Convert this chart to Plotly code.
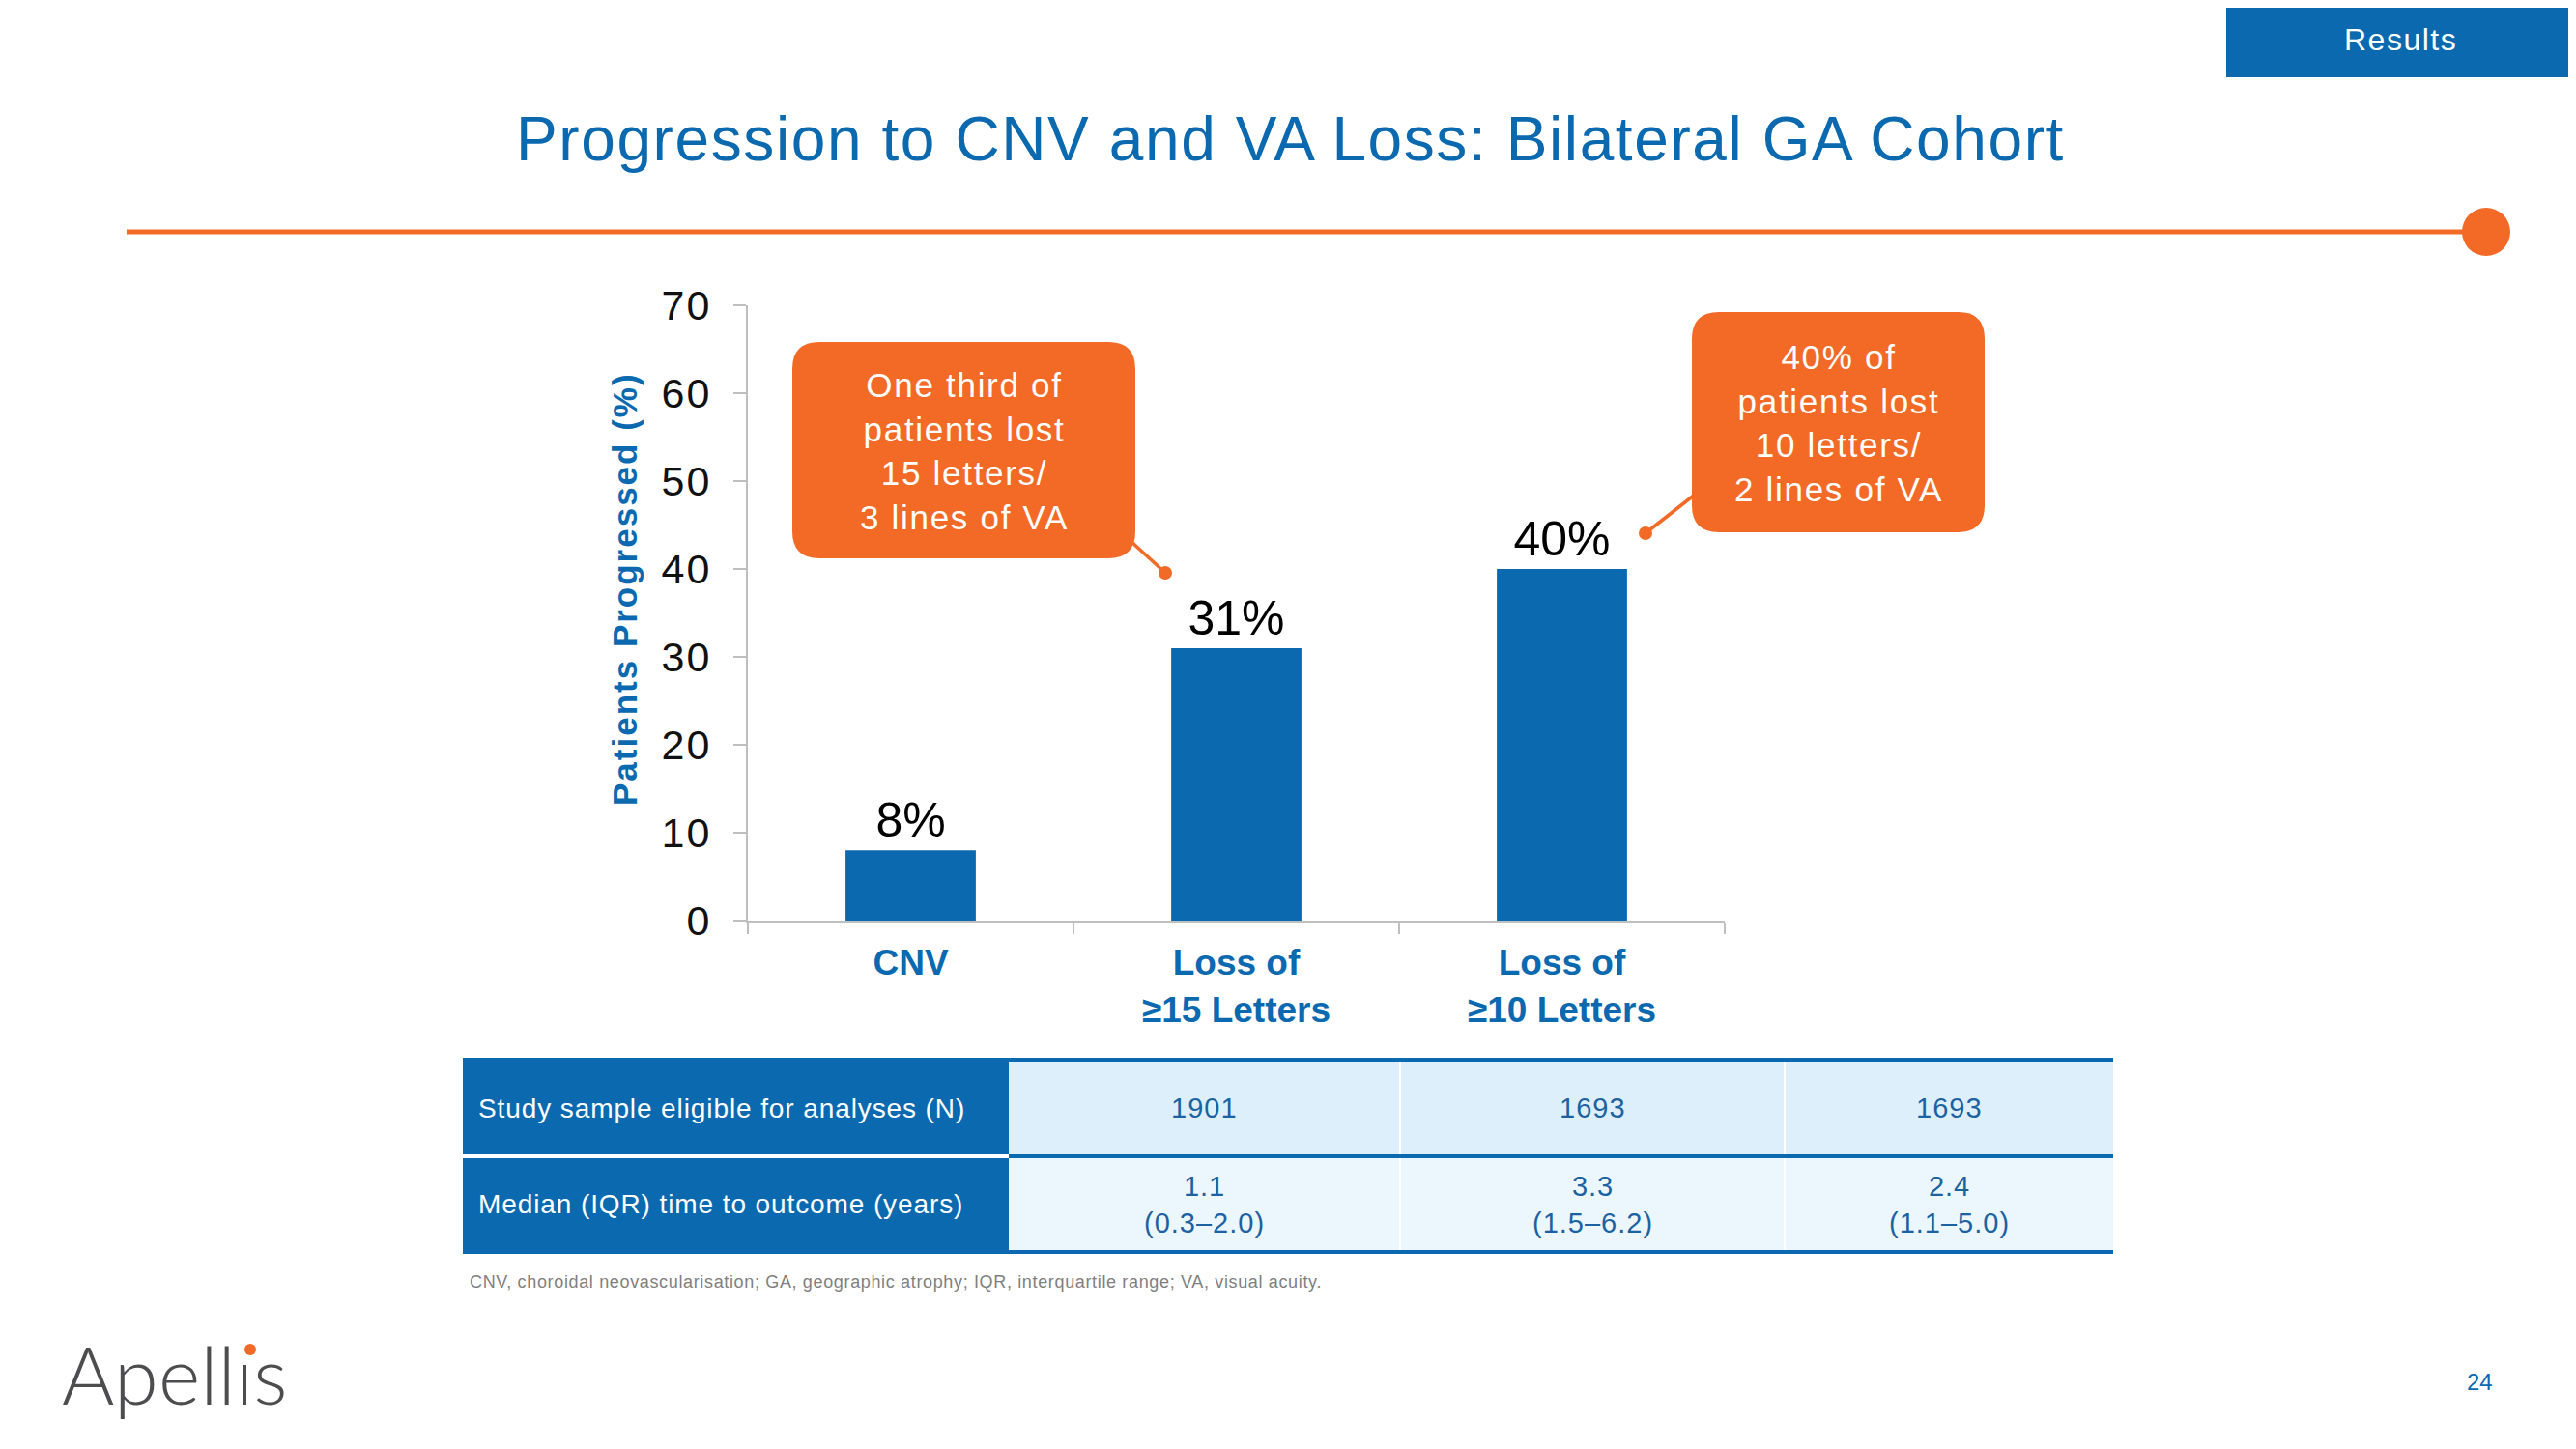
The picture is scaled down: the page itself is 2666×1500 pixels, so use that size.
import plotly.graph_objects as go

# ---------------- data ----------------
categories = ["CNV", "Loss of ≥15 Letters", "Loss of ≥10 Letters"]
category_labels = ["CNV", "Loss of<br>≥15 Letters", "Loss of<br>≥10 Letters"]
progressed_pct = [8, 31, 40]
bar_labels = ["8%", "31%", "40%"]
y_ticks = [0, 10, 20, 30, 40, 50, 60, 70]

callout_1 = ["One third of", "patients lost", "15 letters/", "3 lines of VA"]
callout_2 = ["40% of", "patients lost", "10 letters/", "2 lines of VA"]

table_row_labels = ["Study sample eligible for analyses (N)", "Median (IQR) time to outcome (years)"]
sample_n = ["1901", "1693", "1693"]
median_years = ["1.1", "3.3", "2.4"]
iqr_years = ["(0.3–2.0)", "(1.5–6.2)", "(1.1–5.0)"]

title_text = "Progression to CNV and VA Loss: Bilateral GA Cohort"
y_title = "Patients Progressed (%)"
footnote = "CNV, choroidal neovascularisation; GA, geographic atrophy; IQR, interquartile range; VA, visual acuity."
section_label = "Results"
page_number = "24"
logo_text = "Apellıs"

# ---------------- styling ----------------
W, H = 2666, 1500
OFF = 8  # page body margin
BLUE = "#0B69AF"
ORANGE = "#F26A26"
GREY_AX = "#BFBFBF"
FONT = "Liberation Sans, Arial, sans-serif"


def px(x):
    return (x - OFF) / W


def py(y):
    return 1 - (y - OFF) / H


def spaced(t, s):
    return f'<span style="letter-spacing:{s}px">{t}</span>'


def rrect_path(x0, y0, x1, y1, r):
    pts = [
        ("M", [(x0 + r, y0)]), ("L", [(x1 - r, y0)]), ("Q", [(x1, y0), (x1, y0 + r)]),
        ("L", [(x1, y1 - r)]), ("Q", [(x1, y1), (x1 - r, y1)]), ("L", [(x0 + r, y1)]),
        ("Q", [(x0, y1), (x0, y1 - r)]), ("L", [(x0, y0 + r)]), ("Q", [(x0, y0), (x0 + r, y0)]),
    ]
    out = ""
    for cmd, pp in pts:
        out += cmd + " " + " ".join(f"{px(a):.6f},{py(b):.6f}" for a, b in pp) + " "
    return out + "Z"


def note(x, y, text, size, color, xanchor="center", yanchor="middle", family=FONT, **kw):
    d = dict(x=px(x), y=py(y), xref="paper", yref="paper", text=text, showarrow=False,
             xanchor=xanchor, yanchor=yanchor, font=dict(size=size, color=color, family=family))
    if "weight" in kw:
        d["font"]["weight"] = kw.pop("weight")
    d.update(kw)
    return d


fig = go.Figure()
fig.add_trace(go.Bar(
    x=categories, y=progressed_pct, text=bar_labels, textposition="outside",
    textfont=dict(size=50, color="#000000", family=FONT),
    marker=dict(color=BLUE, line=dict(width=0)), width=0.4, cliponaxis=False,
    hoverinfo="skip",
))

shapes = []
annotations = []

# header band
shapes.append(dict(type="rect", xref="paper", yref="paper", x0=px(2304), x1=px(2680), y0=py(80), y1=py(-10),
                   fillcolor=BLUE, line=dict(width=0), layer="below"))
annotations.append(note(2484, 41, spaced(section_label, 1.5), 32, "white"))
# title
annotations.append(note(1335, 144, spaced(title_text, 1.6), 64, BLUE))
# orange rule + circle
shapes.append(dict(type="line", xref="paper", yref="paper", x0=px(131), x1=px(2560), y0=py(240), y1=py(240),
                   line=dict(color=ORANGE, width=5)))
shapes.append(dict(type="circle", xref="paper", yref="paper", x0=px(2548), x1=px(2598), y0=py(265), y1=py(215),
                   fillcolor=ORANGE, line=dict(width=0)))

# y-axis title
annotations.append(note(646, 610, spaced(y_title, 2), 35, BLUE, weight="bold", textangle=-90))

# callouts
for lines, (x0, y0, x1, y1), (lx0, ly0, lx1, ly1) in [
    (callout_1, (820, 354, 1175, 578), (1170, 560, 1206, 593)),
    (callout_2, (1751, 323, 2054, 551), (1754, 512, 1703, 552)),
]:
    shapes.append(dict(type="path", xref="paper", yref="paper", path=rrect_path(x0, y0, x1, y1, 28),
                       fillcolor=ORANGE, line=dict(width=0)))
    shapes.append(dict(type="line", xref="paper", yref="paper", x0=px(lx0), y0=py(ly0), x1=px(lx1), y1=py(ly1),
                       line=dict(color=ORANGE, width=3.5)))
    shapes.append(dict(type="circle", xref="paper", yref="paper", x0=px(lx1 - 7), x1=px(lx1 + 7),
                       y0=py(ly1 + 7), y1=py(ly1 - 7), fillcolor=ORANGE, line=dict(width=0)))
    annotations.append(note((x0 + x1) / 2, (y0 + y1) / 2 + 1, "<br>".join(spaced(t, 1.7) for t in lines),
                            35, "white", align="center"))

# table
tx0, tx_head, tx1 = 479, 1044, 2187
col_edges = [1044, 1449, 1847, 2187]
row_edges = [1097, 1197, 1296]
row_fills = ["#DDEFFB", "#EBF6FD"]
for r in range(2):
    shapes.append(dict(type="rect", xref="paper", yref="paper", x0=px(tx0), x1=px(tx_head),
                       y0=py(row_edges[r + 1]), y1=py(row_edges[r]), fillcolor=BLUE, line=dict(width=0)))
    shapes.append(dict(type="rect", xref="paper", yref="paper", x0=px(tx_head), x1=px(tx1),
                       y0=py(row_edges[r + 1]), y1=py(row_edges[r]), fillcolor=row_fills[r], line=dict(width=0)))
    annotations.append(note(493, (row_edges[r] + row_edges[r + 1]) / 2, spaced(table_row_labels[r], 0.9),
                            28, "white", xanchor="left"))
for c in (1, 2):
    shapes.append(dict(type="line", xref="paper", yref="paper", x0=px(col_edges[c]), x1=px(col_edges[c]),
                       y0=py(row_edges[2]), y1=py(row_edges[0]), line=dict(color="white", width=2)))
shapes.append(dict(type="line", xref="paper", yref="paper", x0=px(tx0), x1=px(tx_head),
                   y0=py(row_edges[1]), y1=py(row_edges[1]), line=dict(color="white", width=4)))
shapes.append(dict(type="line", xref="paper", yref="paper", x0=px(tx_head), x1=px(tx1),
                   y0=py(row_edges[1]), y1=py(row_edges[1]), line=dict(color=BLUE, width=4)))
for yy in (row_edges[0], row_edges[2]):
    shapes.append(dict(type="line", xref="paper", yref="paper", x0=px(tx0), x1=px(tx1),
                       y0=py(yy), y1=py(yy), line=dict(color=BLUE, width=4)))
for c in range(3):
    cx = (col_edges[c] + col_edges[c + 1]) / 2
    annotations.append(note(cx, (row_edges[0] + row_edges[1]) / 2, spaced(sample_n[c], 1), 29, "#1D62A0"))
    annotations.append(note(cx, (row_edges[1] + row_edges[2]) / 2,
                            spaced(median_years[c], 1) + "<br>" + spaced(iqr_years[c], 1), 29, "#1D62A0"))

# footnote
annotations.append(note(484, 1327, spaced(footnote, 0.65), 18, "#7F7F7F", xanchor="left"))
# page number
annotations.append(note(2566, 1430, page_number, 24, BLUE))
# logo
annotations.append(note(62, 1422, logo_text, 83, "#4D4D4F", xanchor="left", family="Lato, sans-serif",
                        weight=300))
shapes.append(dict(type="circle", xref="paper", yref="paper", x0=px(253), x1=px(265), y0=py(1403), y1=py(1391),
                   fillcolor=ORANGE, line=dict(width=0)))

fig.update_layout(
    template="none",
    width=W, height=H, margin=dict(l=0, r=0, t=0, b=0, pad=0, autoexpand=False),
    paper_bgcolor="white", plot_bgcolor="white", showlegend=False,
    shapes=shapes, annotations=annotations, bargap=0.6,
    xaxis=dict(domain=[px(774), px(1785)], type="category", showline=True, linecolor=GREY_AX, linewidth=2,
               ticks="outside", tickson="boundaries", ticklen=12, tickcolor=GREY_AX, tickwidth=2,
               tickvals=categories, ticktext=category_labels, ticklabelstandoff=10, automargin=False,
               tickfont=dict(size=37, color=BLUE, family=FONT, weight="bold"), showgrid=False, zeroline=False),
    yaxis=dict(domain=[py(953), py(316)], range=[0, 70], showline=True, linecolor=GREY_AX, linewidth=2,
               ticks="outside", ticklen=13, tickcolor=GREY_AX, tickwidth=2, automargin=False,
               tickvals=y_ticks, ticktext=[spaced(str(v), 2) for v in y_ticks], ticklabelstandoff=14,
               tickfont=dict(size=43, color="#111111", family=FONT), showgrid=False, zeroline=False),
)

fig.write_html("out.html")
